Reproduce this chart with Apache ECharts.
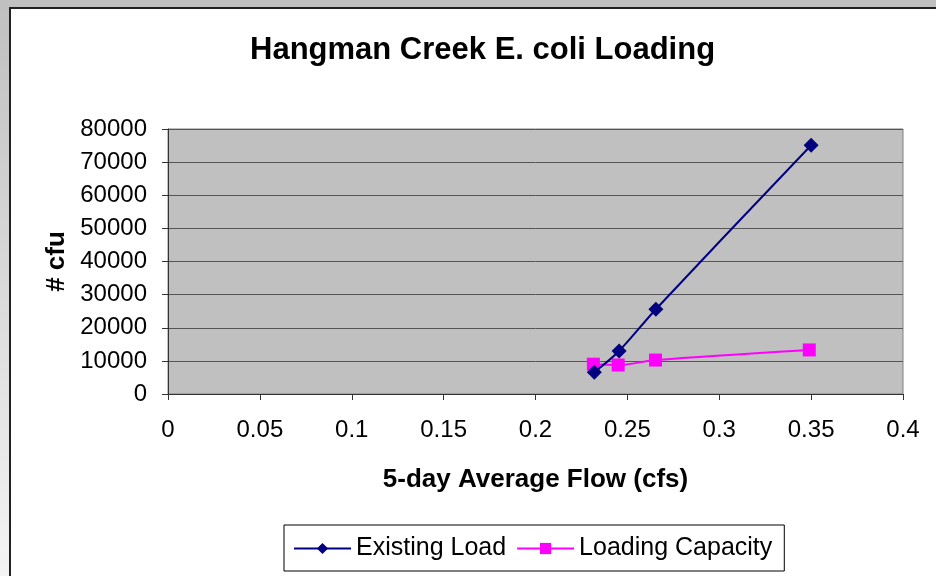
<!DOCTYPE html>
<html>
<head>
<meta charset="utf-8">
<script src="https://cdn.jsdelivr.net/npm/echarts@6/dist/echarts.min.js"></script>
<style>
  html, body { margin: 0; padding: 0; background: #fff; }
  #chart { width: 936px; height: 576px; }
</style>
</head>
<body>
<div id="chart"></div>
<script>
// flow (cfs) vs. E. coli load (# cfu)
const existingFlow = [0.232, 0.2455, 0.2655, 0.35];
const existingLoad = [6600, 13000, 25600, 75100];
const capacityFlow = [0.2315, 0.245, 0.2653, 0.349];
const capacityLoad = [9000, 8750, 10250, 13300];
const xTicks = { min: 0, max: 0.4, step: 0.05 };
const yTicks = { min: 0, max: 80000, step: 10000 };

const chart = echarts.init(document.getElementById('chart'));
const font = 'Liberation Sans, Arial, sans-serif';

const option = {
    backgroundColor: '#fff',
    animation: false,
    title: {
        text: 'Hangman Creek E. coli Loading',
        left: 245,
        top: 30,
        textStyle: { fontFamily: font, fontSize: 31, fontWeight: 'bold', color: '#000' }
    },
    graphic: [
        { type: 'rect', shape: { x: 0, y: 0, width: 936, height: 7 }, style: { fill: '#c0c0c0' } },
        {
            type: 'rect', shape: { x: 0, y: 7, width: 9, height: 569 },
            style: {
                fill: { type: 'linear', x: 0, y: 0, x2: 0, y2: 1,
                    colorStops: [{ offset: 0, color: '#c0c0c0' }, { offset: 1, color: '#f4f4f4' }] }
            }
        },
        { type: 'line', shape: { x1: 9, y1: 8, x2: 936, y2: 8 }, style: { stroke: '#222', lineWidth: 2 } },
        { type: 'line', shape: { x1: 10, y1: 8, x2: 10, y2: 576 }, style: { stroke: '#222', lineWidth: 2 } }
    ],
    legend: {
        left: 284,
        top: 525,
        padding: [11, 12, 10, 9],
        borderColor: '#000',
        borderWidth: 1,
        itemWidth: 57,
        itemHeight: 14,
        itemGap: 10,
        textStyle: { fontFamily: font, fontSize: 25, color: '#000' },
        data: ['Existing Load', 'Loading Capacity']
    },
    grid: {
        left: 168,
        right: 33,
        top: 129,
        bottom: 182,
        show: true,
        backgroundColor: '#c0c0c0',
        borderColor: '#808080',
        borderWidth: 1
    },
    xAxis: {
        type: 'value',
        min: xTicks.min,
        max: xTicks.max,
        interval: xTicks.step,
        name: '5-day Average Flow (cfs)',
        nameLocation: 'middle',
        nameGap: 73,
        nameTextStyle: { fontFamily: font, fontSize: 26, fontWeight: 'bold', color: '#000' },
        axisLine: { show: true, lineStyle: { color: '#333', width: 1 } },
        axisTick: { show: true, inside: false, length: 6, lineStyle: { color: '#333' } },
        axisLabel: { fontFamily: font, fontSize: 24, color: '#000', margin: 24 },
        splitLine: { show: false }
    },
    yAxis: {
        type: 'value',
        min: yTicks.min,
        max: yTicks.max,
        interval: yTicks.step,
        name: '# cfu',
        nameLocation: 'middle',
        nameGap: 96,
        nameRotate: 90,
        nameTextStyle: { fontFamily: font, fontSize: 26, fontWeight: 'bold', color: '#000' },
        axisLine: { show: true, lineStyle: { color: '#333', width: 1 } },
        axisTick: { show: true, inside: false, length: 6, lineStyle: { color: '#333' } },
        axisLabel: { fontFamily: font, fontSize: 24, color: '#000', margin: 21, formatter: v => String(v) },
        splitLine: { show: true, lineStyle: { color: '#555', width: 1 } }
    },
    series: [
        {
            name: 'Existing Load',
            type: 'line',
            smooth: 0.3,
            data: existingFlow.map((x, i) => [x, existingLoad[i]]),
            symbol: 'diamond',
            symbolSize: 15,
            lineStyle: { color: '#000080', width: 2 },
            itemStyle: { color: '#000080' },
            z: 3
        },
        {
            name: 'Loading Capacity',
            type: 'line',
            smooth: 0.3,
            data: capacityFlow.map((x, i) => [x, capacityLoad[i]]),
            symbol: 'rect',
            symbolSize: 13,
            lineStyle: { color: '#ff00ff', width: 2 },
            itemStyle: { color: '#ff00ff' },
            z: 2
        }
    ]
};

chart.setOption(option);
</script>
</body>
</html>
